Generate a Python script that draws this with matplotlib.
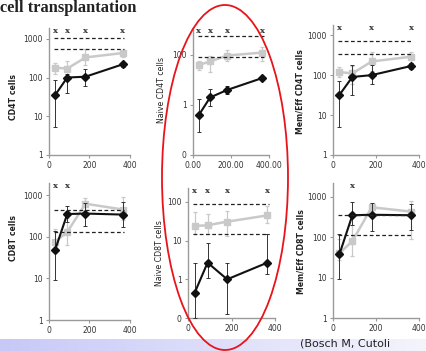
import numpy as np
import matplotlib
matplotlib.use("Agg")
import matplotlib.pyplot as plt
from matplotlib.patches import Ellipse
from matplotlib.ticker import FixedLocator, FixedFormatter

W, H = 426, 351
days = [30, 90, 180, 365]

# panel data: black (patients), grey (controls)
cd4_black = [35, 100, 105, 220]
cd4_black_lo = [5.3, 40, 60, 190]
cd4_black_hi = [87, 120, 170, 250]
cd4_grey = [180, 170, 330, 430]
cd4_grey_lo = [120, 110, 210, 330]
cd4_grey_hi = [240, 260, 560, 520]
cd4_ref = [1050, 530]
cd4_sig = [0, 1, 2, 3]

ncd4_black = [0.39, 2.0, 4.0, 12]
ncd4_black_lo = [0.08, 0.9, 2.8, 10]
ncd4_black_hi = [1.7, 4.5, 6.0, 15]
ncd4_grey = [40, 55, 95, 125]
ncd4_grey_lo = [25, 20, 55, 60]
ncd4_grey_hi = [60, 95, 160, 200]
ncd4_ref = [600, 85]
ncd4_sig = [0, 1, 2, 3]

mcd4_black = [32, 90, 100, 170]
mcd4_black_lo = [5, 32, 60, 140]
mcd4_black_hi = [70, 180, 180, 200]
mcd4_grey = [120, 110, 220, 290]
mcd4_grey_lo = [90, 60, 130, 200]
mcd4_grey_hi = [160, 170, 380, 380]
mcd4_ref = [700, 330]
mcd4_sig = [0, 2, 3]

cd8_black = [48, 350, 360, 340]
cd8_black_lo = [9, 230, 180, 170]
cd8_black_hi = [140, 550, 650, 680]
cd8_grey = [75, 130, 620, 450]
cd8_grey_lo = [55, 65, 400, 250]
cd8_grey_hi = [150, 280, 850, 900]
cd8_ref = [450, 130]
cd8_sig = [0, 1]

ncd8_black = [0.44, 2.7, 1.0, 2.7]
ncd8_black_lo = [0.1, 1.1, 0.13, 1.4]
ncd8_black_hi = [2.7, 8.5, 2.7, 15]
ncd8_grey = [24, 25, 31, 45]
ncd8_grey_lo = [15, 15, 13, 28]
ncd8_grey_hi = [55, 50, 60, 80]
ncd8_ref = [88, 15]
ncd8_sig = [0, 1, 2, 3]

mcd8_black = [38, 350, 360, 350]
mcd8_black_lo = [9, 200, 140, 150]
mcd8_black_hi = [120, 750, 700, 650]
mcd8_grey = [40, 80, 550, 430]
mcd8_grey_lo = [28, 35, 380, 90]
mcd8_grey_hi = [90, 200, 700, 800]
mcd8_ref = [360, 115]
mcd8_sig = [1]

ylabels = ["CD4T cells", "Naive CD4T cells", "Mem/Eff CD4T cells",
           "CD8T cells", "Naive CD8T cells", "Mem/Eff CD8T cells"]
xticklabels_std = ["0", "200", "400"]
xticklabels_dec = ["0.00", "200.00", "400.00"]

fig = plt.figure(figsize=(W / 100, H / 100), dpi=100)
fig.patch.set_facecolor("white")


def px_axes(l, r, t, b):
    return fig.add_axes([l / W, 1 - b / H, (r - l) / W, (b - t) / H])


panels = [
    dict(box=(49, 130, 28, 155), ylim=(1, 1900), yt=[1, 10, 100, 1000], ytl=["1", "10", "100", "1000"],
         xtl=xticklabels_std, b=(cd4_black, cd4_black_lo, cd4_black_hi), g=(cd4_grey, cd4_grey_lo, cd4_grey_hi),
         ref=cd4_ref, sig=cd4_sig, lab=(14, 97), bold=True),
    dict(box=(193, 269, 28, 155), ylim=(0.01, 1200), yt=[0.01, 1, 100], ytl=["0", "1", "100"],
         xtl=xticklabels_dec, b=(ncd4_black, ncd4_black_lo, ncd4_black_hi), g=(ncd4_grey, ncd4_grey_lo, ncd4_grey_hi),
         ref=ncd4_ref, sig=ncd4_sig, lab=(162, 90), bold=False),
    dict(box=(333, 419, 25, 155), ylim=(1, 1800), yt=[1, 10, 100, 1000], ytl=["1", "10", "100", "1000"],
         xtl=xticklabels_std, b=(mcd4_black, mcd4_black_lo, mcd4_black_hi), g=(mcd4_grey, mcd4_grey_lo, mcd4_grey_hi),
         ref=mcd4_ref, sig=mcd4_sig, lab=(300, 92), bold=True),
    dict(box=(49, 130, 183, 320), ylim=(1, 1950), yt=[1, 10, 100, 1000], ytl=["1", "10", "100", "1000"],
         xtl=xticklabels_std, b=(cd8_black, cd8_black_lo, cd8_black_hi), g=(cd8_grey, cd8_grey_lo, cd8_grey_hi),
         ref=cd8_ref, sig=cd8_sig, lab=(14, 238), bold=True),
    dict(box=(188, 275, 188, 318), ylim=(0.1, 230), yt=[0.1, 1, 10, 100], ytl=["0", "1", "10", "100"],
         xtl=xticklabels_std, b=(ncd8_black, ncd8_black_lo, ncd8_black_hi), g=(ncd8_grey, ncd8_grey_lo, ncd8_grey_hi),
         ref=ncd8_ref, sig=ncd8_sig, lab=(159, 253), bold=False),
    dict(box=(333, 419, 183, 318), ylim=(1, 2200), yt=[1, 10, 100, 1000], ytl=["1", "10", "100", "1000"],
         xtl=xticklabels_std, b=(mcd8_black, mcd8_black_lo, mcd8_black_hi), g=(mcd8_grey, mcd8_grey_lo, mcd8_grey_hi),
         ref=mcd8_ref, sig=mcd8_sig, lab=(301, 252), bold=True),
]

GREY = "#c9c9c9"
SPINE = "#9a9a9a"

for p, lab in zip(panels, ylabels):
    ax = px_axes(*p["box"])
    ax.set_yscale("log")
    ax.set_xlim(0, 400)
    ax.set_ylim(*p["ylim"])
    ax.patch.set_alpha(0)
    for s in ["top", "right"]:
        ax.spines[s].set_visible(False)
    for s in ["left", "bottom"]:
        ax.spines[s].set_color(SPINE)
        ax.spines[s].set_linewidth(1.0)
    ax.yaxis.set_major_locator(FixedLocator(p["yt"]))
    ax.yaxis.set_major_formatter(FixedFormatter(p["ytl"]))
    ax.yaxis.set_minor_locator(FixedLocator([]))
    ax.set_xticks([0, 200, 400])
    ax.set_xticklabels(p["xtl"])
    ax.tick_params(axis="both", length=2.5, width=0.8, color=SPINE, labelsize=5.5,
                   labelcolor="#333333", pad=2)

    g, glo, ghi = p["g"]
    g = np.array(g); glo = np.array(glo); ghi = np.array(ghi)
    ax.errorbar(days, g, yerr=[g - glo, ghi - g], color=GREY, lw=1.8, marker="s", ms=4,
                elinewidth=0.9, capsize=1.5, capthick=0.9, zorder=2)
    b, blo, bhi = p["b"]
    b = np.array(b); blo = np.array(blo); bhi = np.array(bhi)
    ax.errorbar(days, b, yerr=[b - blo, bhi - b], color="#111111", lw=1.5, marker="D", ms=3.8,
                elinewidth=0.7, ecolor="#333333", capsize=1.5, capthick=0.7, zorder=3)
    for r in p["ref"]:
        ax.plot([25, 372], [r, r], ls=(0, (3, 2)), color="#222222", lw=0.9, zorder=4)
    for i in p["sig"]:
        ax.text(days[i], 0.975, "x", transform=ax.get_xaxis_transform(), ha="center", va="center",
                fontsize=6, fontweight="bold", family="DejaVu Serif", color="#333333", zorder=5)

    lx, ly = p["lab"]
    fig.text(lx / W, 1 - ly / H, lab, rotation=90, ha="center", va="center", fontsize=5.6,
             fontweight="bold" if p["bold"] else "normal", color="#222222")

# title (partially cut slide heading)
fig.text(0 / W, 1 - 12.5 / H, "cell transplantation", ha="left", va="baseline", fontsize=11.8,
         fontweight="bold", family="Liberation Serif", color="#222222")

# bottom gradient band
band = fig.add_axes([0, 0, 1, 12 / H])
band.axis("off")
grad = np.linspace(0, 1, 256)[None, :]
c0 = np.array([200, 200, 248]) / 255
c1 = np.array([244, 244, 253]) / 255
img = c0[None, None, :] * (1 - grad[..., None]) + c1[None, None, :] * grad[..., None]
band.imshow(img, aspect="auto", extent=[0, 1, 0, 1])
band.set_xlim(0, 1)
band.set_ylim(0, 1)
fig.text(300 / W, 1 - 339 / H, "(Bosch M, Cutoli", ha="left", va="top", fontsize=8, color="#222222")

# red ellipse annotation
fig.add_artist(Ellipse((225 / W, 1 - 177.5 / H), 126 / W, 345 / H, transform=fig.transFigure,
                       fill=False, edgecolor="#e8141a", lw=1.3, zorder=10))

fig.savefig("out.png", dpi=100)
